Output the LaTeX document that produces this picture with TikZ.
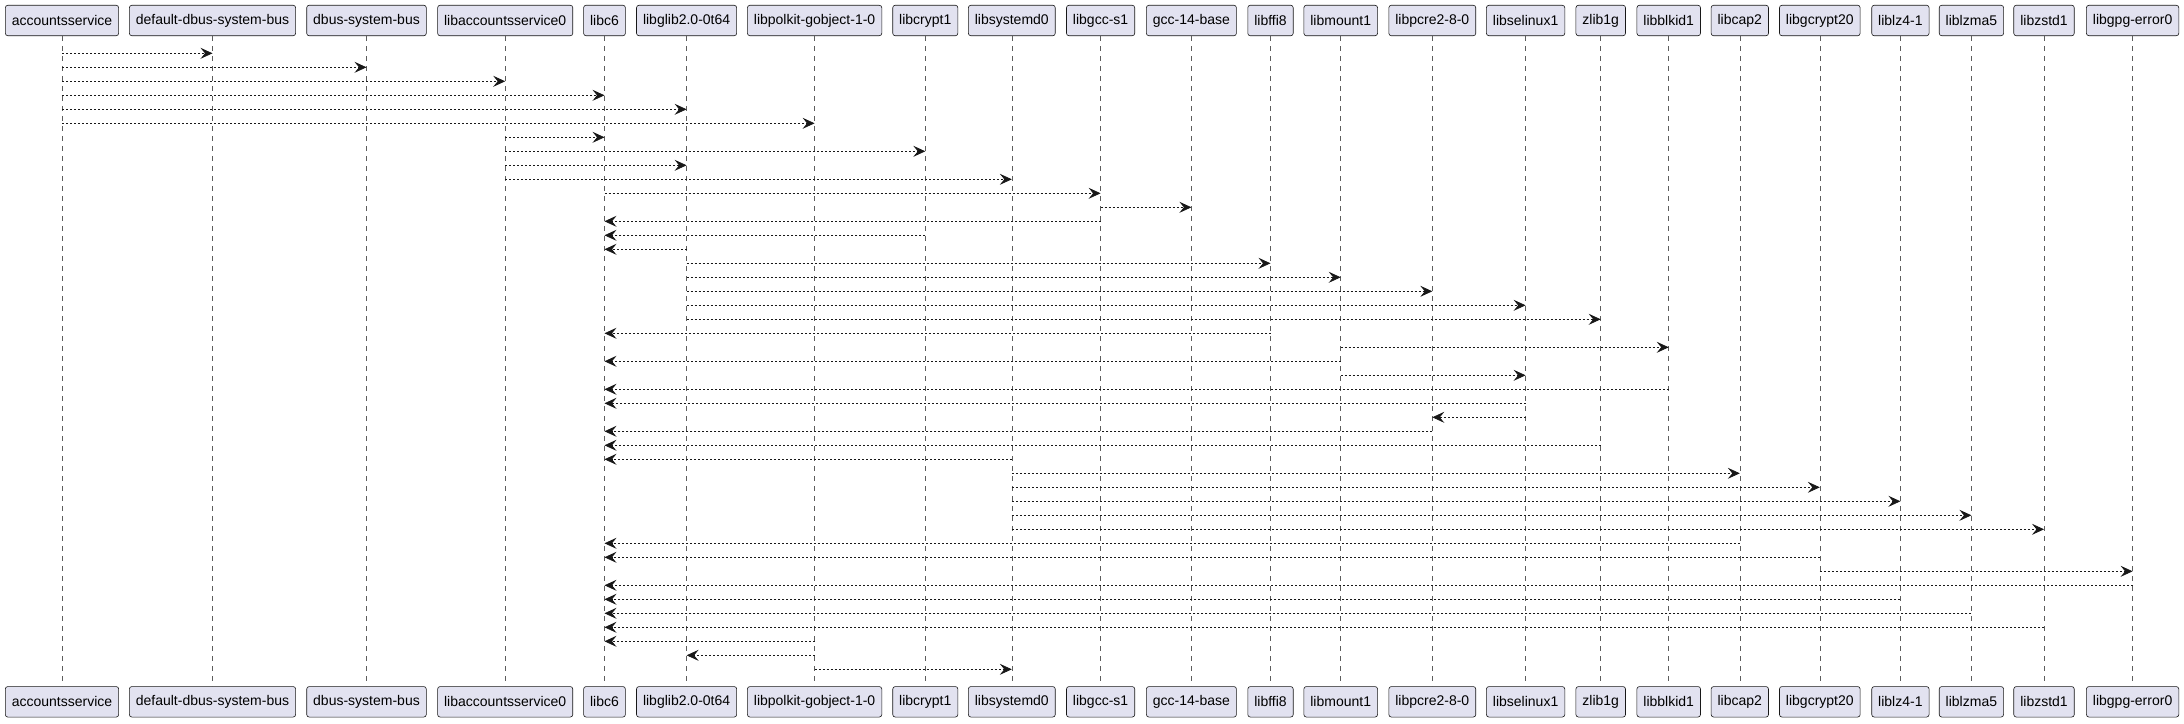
\documentclass[tikz,border=0pt]{standalone}
\usepackage{fontspec}
\setmainfont{Liberation Sans}
\usetikzlibrary{arrows.meta}
\definecolor{boxfill}{HTML}{E2E2F0}
\definecolor{ink}{HTML}{181818}
\tikzset{
  part/.style={draw=ink, fill=boxfill, line width=0.6pt, rounded corners=2.5pt,
    inner xsep=6.5pt, inner ysep=0pt, minimum height=30.5pt, anchor=center,
    font=\fontsize{14}{16}\selectfont, text=black},
  life/.style={draw=ink!70, line width=0.6pt, dash pattern=on 5pt off 5pt},
  msg/.style={draw=ink, line width=1pt, dash pattern=on 2pt off 2pt,
    -{Stealth[length=12pt, width=11pt, inset=4.5pt, fill=ink, line width=0.8pt]}}
}
\newcommand{\msgline}[3]{\draw[msg] (#1 |- r#3) -- (#2 |- r#3);}
\begin{document}
\begin{tikzpicture}[x=1pt, y=-1pt]
\useasboundingbox (0,0) rectangle (2184,723);
% participants: name / center x / label
\foreach \nm/\cx/\lb in {
  acc/62/accountsservice,
  ddbus/212.5/default-dbus-system-bus,
  dbus/366.5/dbus-system-bus,
  libacc/505.2/libaccountsservice0,
  libc/604.5/libc6,
  glib/686.6/libglib2.0-0t64,
  polkit/814.6/libpolkit-gobject-1-0,
  crypt/925.3/libcrypt1,
  systemd/1011.8/libsystemd0,
  gccs/1100.6/libgcc-s1,
  gccbase/1191.4/gcc-14-base,
  ffi/1270.5/libffi8,
  mount/1340.7/libmount1,
  pcre/1432.3/libpcre2-8-0,
  selinux/1525.6/libselinux1,
  zlib/1600.7/zlib1g,
  blkid/1668.7/libblkid1,
  cap/1739.8/libcap2,
  gcrypt/1819.8/libgcrypt20,
  lz4/1900.4/liblz4-1,
  lzma/1971.4/liblzma5,
  zstd/2044.0/libzstd1,
  gpg/2132.6/libgpg-error0}{
  \node[part] (\nm) at (\cx,20.5) {\lb};
  \node[part] (\nm-b) at (\cx,701.8) {\lb};
  \draw[life] (\nm.south) -- (\nm-b.north);
}
% message rows
\foreach \i in {1,...,45}{
  \coordinate (r\i) at (0,{53.3+14.0*(\i-1)});
}
\msgline{acc}{ddbus}{1}
\msgline{acc}{dbus}{2}
\msgline{acc}{libacc}{3}
\msgline{acc}{libc}{4}
\msgline{acc}{glib}{5}
\msgline{acc}{polkit}{6}
\msgline{libacc}{libc}{7}
\msgline{libacc}{crypt}{8}
\msgline{libacc}{glib}{9}
\msgline{libacc}{systemd}{10}
\msgline{libc}{gccs}{11}
\msgline{gccs}{gccbase}{12}
\msgline{gccs}{libc}{13}
\msgline{crypt}{libc}{14}
\msgline{glib}{libc}{15}
\msgline{glib}{ffi}{16}
\msgline{glib}{mount}{17}
\msgline{glib}{pcre}{18}
\msgline{glib}{selinux}{19}
\msgline{glib}{zlib}{20}
\msgline{ffi}{libc}{21}
\msgline{mount}{blkid}{22}
\msgline{mount}{libc}{23}
\msgline{mount}{selinux}{24}
\msgline{blkid}{libc}{25}
\msgline{selinux}{libc}{26}
\msgline{selinux}{pcre}{27}
\msgline{pcre}{libc}{28}
\msgline{zlib}{libc}{29}
\msgline{systemd}{libc}{30}
\msgline{systemd}{cap}{31}
\msgline{systemd}{gcrypt}{32}
\msgline{systemd}{lz4}{33}
\msgline{systemd}{lzma}{34}
\msgline{systemd}{zstd}{35}
\msgline{cap}{libc}{36}
\msgline{gcrypt}{libc}{37}
\msgline{gcrypt}{gpg}{38}
\msgline{gpg}{libc}{39}
\msgline{lz4}{libc}{40}
\msgline{lzma}{libc}{41}
\msgline{zstd}{libc}{42}
\msgline{polkit}{libc}{43}
\msgline{polkit}{glib}{44}
\msgline{polkit}{systemd}{45}
\end{tikzpicture}
\end{document}
